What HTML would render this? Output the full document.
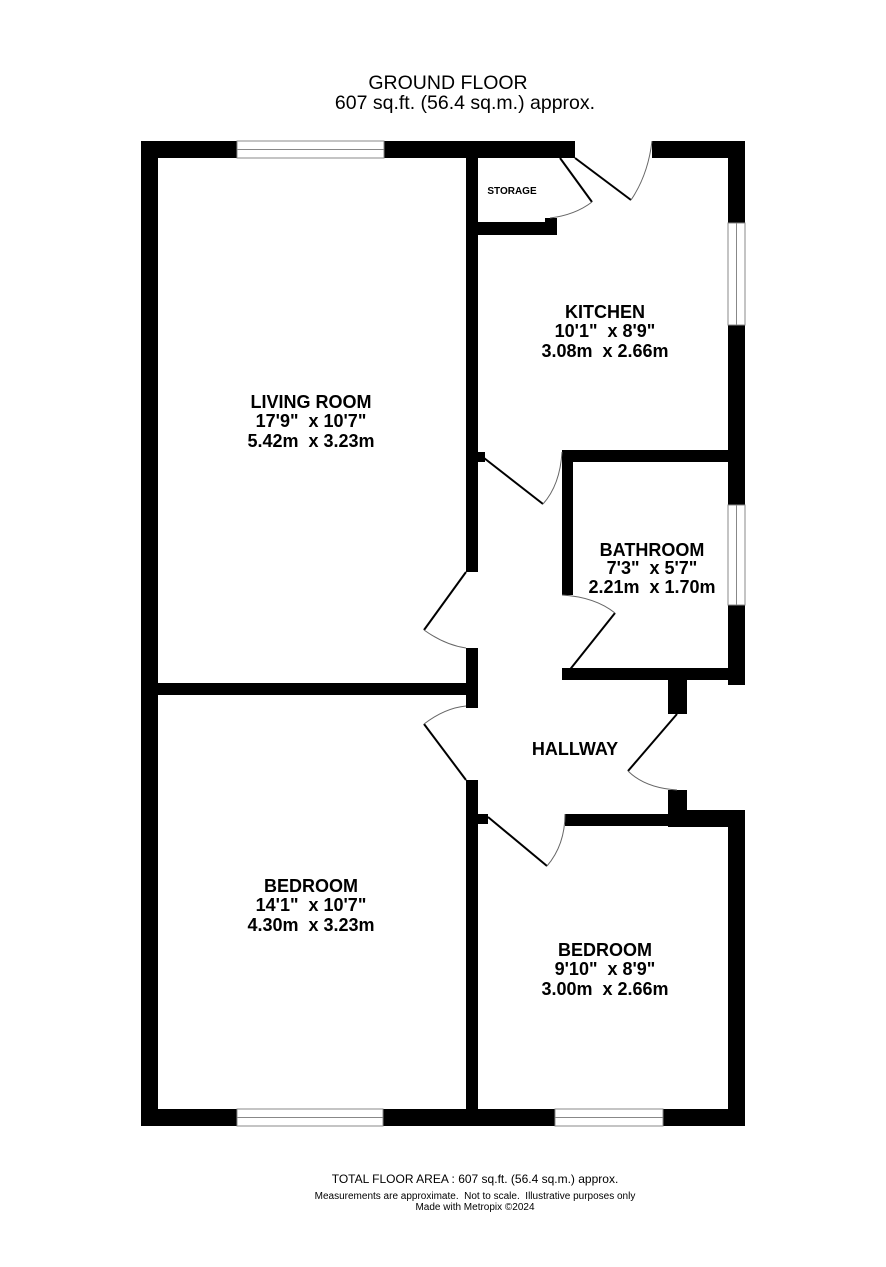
<!DOCTYPE html>
<html><head><style>
body{margin:0;background:#fff;}
svg{display:block;font-family:"Liberation Sans",Arial,sans-serif;}
text{white-space:pre;}
.t{font-weight:bold;font-size:18px;text-anchor:middle;fill:#000}
</style></head><body>
<svg width="886" height="1267" viewBox="0 0 886 1267" xml:space="preserve">
<text x="448" y="89" font-size="19.5" text-anchor="middle">GROUND FLOOR</text>
<text x="465" y="109" font-size="19.5" text-anchor="middle">607 sq.ft. (56.4 sq.m.) approx.</text>
<g fill="#000">
<rect x="141" y="141" width="96" height="17"/>
<rect x="384" y="141" width="191" height="17"/>
<rect x="652" y="141" width="93" height="17"/>
<rect x="141" y="141" width="17" height="985"/>
<rect x="141" y="1109" width="96" height="17"/>
<rect x="383" y="1109" width="172" height="17"/>
<rect x="663" y="1109" width="82" height="17"/>
<rect x="728" y="141" width="17" height="82"/>
<rect x="728" y="325" width="17" height="180"/>
<rect x="728" y="605" width="17" height="80"/>
<rect x="728" y="810" width="17" height="316"/>
<rect x="466" y="158" width="12" height="414"/>
<rect x="466" y="648" width="12" height="60"/>
<rect x="466" y="780" width="12" height="346"/>
<rect x="141" y="683" width="337" height="12"/>
<rect x="478" y="222" width="79" height="13"/>
<rect x="545" y="218" width="12" height="17"/>
<rect x="562" y="450" width="183" height="12"/>
<rect x="562" y="450" width="11" height="145"/>
<rect x="478" y="452" width="7" height="10"/>
<rect x="562" y="668" width="183" height="12"/>
<rect x="668" y="668" width="19" height="46"/>
<rect x="668" y="790" width="19" height="37"/>
<rect x="668" y="810" width="77" height="17"/>
<rect x="565" y="814" width="180" height="12"/>
<rect x="478" y="814" width="10" height="10"/>
</g>
<g fill="none" stroke="#888" stroke-width="1">
<rect x="237" y="141" width="147" height="17"/><line x1="237" y1="149.5" x2="384" y2="149.5"/>
<rect x="237" y="1109" width="146" height="17"/><line x1="237" y1="1117.5" x2="383" y2="1117.5"/>
<rect x="555" y="1109" width="108" height="17"/><line x1="555" y1="1117.5" x2="663" y2="1117.5"/>
<rect x="728" y="223" width="17" height="102"/><line x1="736.5" y1="223" x2="736.5" y2="325"/>
<rect x="728" y="505" width="17" height="100"/><line x1="736.5" y1="505" x2="736.5" y2="605"/>
</g>
<g fill="none" stroke="#000" stroke-width="2">
<line x1="560" y1="158" x2="592" y2="202"/>
<line x1="575" y1="158" x2="631" y2="200"/>
<line x1="484" y1="458" x2="543" y2="504"/>
<line x1="466" y1="572" x2="424" y2="630"/>
<line x1="466" y1="780" x2="424" y2="724"/>
<line x1="488" y1="817" x2="547" y2="866"/>
<line x1="568" y1="672" x2="615" y2="613"/>
<line x1="677" y1="714" x2="628" y2="771"/>
</g>
<g fill="none" stroke="#666" stroke-width="1">
<path d="M592 202 Q575 215 550 218"/>
<path d="M631 200 Q648 175 652 141"/>
<path d="M543 504 Q560 485 562 452"/>
<path d="M424 630 Q445 645 466 648"/>
<path d="M424 724 Q445 708 466 706"/>
<path d="M547 866 Q565 845 565 814"/>
<path d="M615 613 Q595 597 562 595"/>
<path d="M628 771 Q645 788 677 790"/>
</g>
<text x="512" y="194" font-size="10" font-weight="bold" text-anchor="middle">STORAGE</text>
<text class="t" x="605" y="318">KITCHEN</text>
<text class="t" x="605" y="337">10'1"  x 8'9"</text>
<text class="t" x="605" y="357">3.08m  x 2.66m</text>
<text class="t" x="311" y="408">LIVING ROOM</text>
<text class="t" x="311" y="427">17'9"  x 10'7"</text>
<text class="t" x="311" y="447">5.42m  x 3.23m</text>
<text class="t" x="652" y="556">BATHROOM</text>
<text class="t" x="652" y="574">7'3"  x 5'7"</text>
<text class="t" x="652" y="593">2.21m  x 1.70m</text>
<text class="t" x="575" y="755">HALLWAY</text>
<text class="t" x="311" y="892">BEDROOM</text>
<text class="t" x="311" y="911">14'1"  x 10'7"</text>
<text class="t" x="311" y="931">4.30m  x 3.23m</text>
<text class="t" x="605" y="956">BEDROOM</text>
<text class="t" x="605" y="975">9'10"  x 8'9"</text>
<text class="t" x="605" y="995">3.00m  x 2.66m</text>
<text x="475" y="1183" font-size="12" text-anchor="middle">TOTAL FLOOR AREA : 607 sq.ft. (56.4 sq.m.) approx.</text>
<text x="475" y="1199" font-size="10" text-anchor="middle">Measurements are approximate.  Not to scale.  Illustrative purposes only</text>
<text x="475" y="1210" font-size="10" text-anchor="middle">Made with Metropix ©2024</text>
</svg>
</body></html>
